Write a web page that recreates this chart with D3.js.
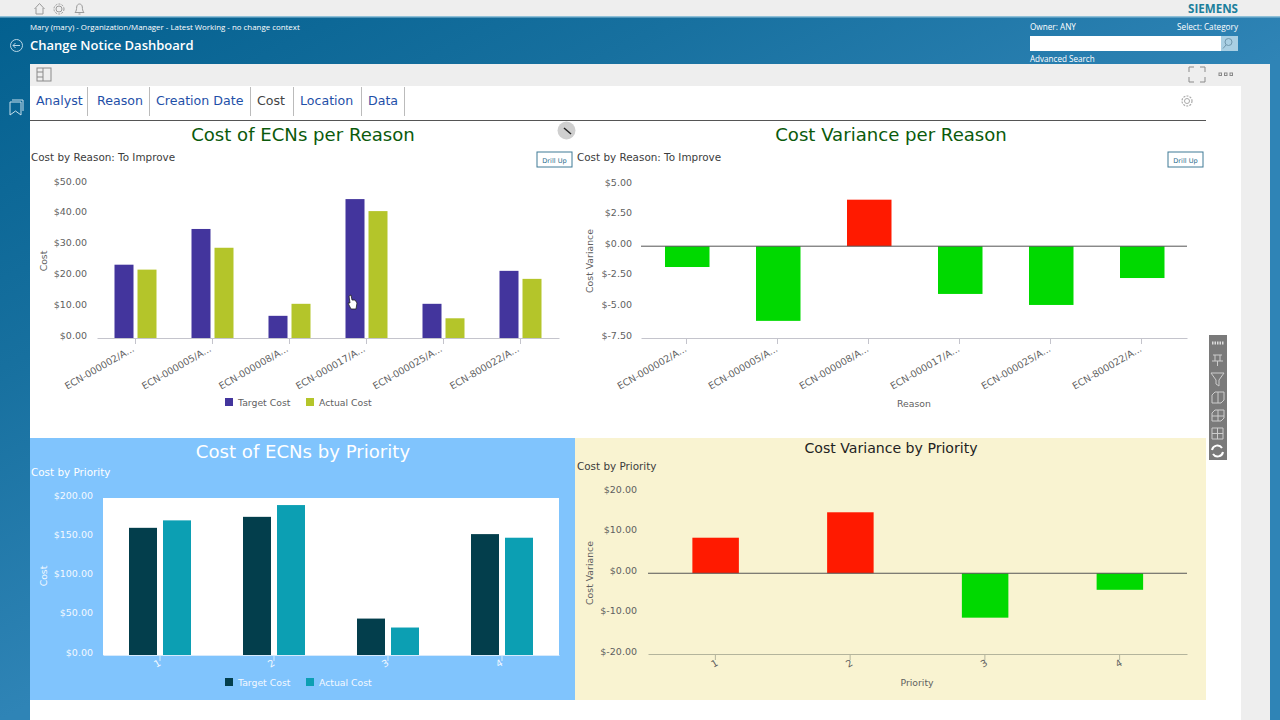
<!DOCTYPE html>
<html>
<head>
<meta charset="utf-8">
<script src="https://cdn.jsdelivr.net/npm/d3@7/dist/d3.min.js"></script>
<style>
  html, body { margin: 0; padding: 0; background: #fff; overflow: hidden; }
  svg { display: block; }
  text { font-family: "DejaVu Sans", sans-serif; }
  .ui text, text.ui { font-family: "Open Sans", sans-serif; }
</style>
</head>
<body>
<div id="page"></div>
<script>
// Chart values
const reasonLabels = ['ECN-000002/A...', 'ECN-000005/A...', 'ECN-000008/A...', 'ECN-000017/A...', 'ECN-000025/A...', 'ECN-800022/A...'];
const reasonTarget = [23.8, 35.4, 7.2, 45.1, 11.1, 21.8];
const reasonActual = [22.2, 29.3, 11.1, 41.2, 6.4, 19.2];
const reasonVariance = [-1.7, -6.1, 3.8, -3.9, -4.8, -2.6];
const reasonCostTicks = [0, 10, 20, 30, 40, 50];
const reasonVarianceTicks = [-7.5, -5, -2.5, 0, 2.5, 5];

const priorityLabels = ['1', '2', '3', '4'];
const priorityTarget = [162, 176, 46.4, 154];
const priorityActual = [171.5, 191, 35, 149.4];
const priorityVariance = [8.8, 15.1, -11, -4.1];
const priorityCostTicks = [0, 50, 100, 150, 200];
const priorityVarianceTicks = [-20, -10, 0, 10, 20];

const tabs = [
  { name: 'Analyst', x: 36, sep: 87 },
  { name: 'Reason', x: 97, sep: 149 },
  { name: 'Creation Date', x: 156, sep: 250 },
  { name: 'Cost', x: 257, sep: 293, active: true },
  { name: 'Location', x: 300, sep: 361 },
  { name: 'Data', x: 368, sep: 404 }
];

const RED = '#ff1a00', GREEN = '#00d900';
const money = d => '$' + d.toFixed(2);

const svg = d3.select('#page').append('svg')
  .attr('width', 1280)
  .attr('height', 720)
  .attr('viewBox', '0 0 1280 720');

// Page background
const defs = svg.append('defs');
const grad = defs.append('linearGradient').attr('id', 'bg')
  .attr('gradientUnits', 'userSpaceOnUse')
  .attr('x1', 0).attr('y1', 17).attr('x2', 287).attr('y2', 572);
grad.append('stop').attr('offset', '0').attr('stop-color', '#03608f');
grad.append('stop').attr('offset', '0.5').attr('stop-color', '#17709f');
grad.append('stop').attr('offset', '1').attr('stop-color', '#2f84b6');

const rect = (x, y, w, h, fill) => svg.append('rect')
  .attr('x', x).attr('y', y).attr('width', w).attr('height', h).attr('fill', fill);

function label(x, y, str, opts = {}) {
  return svg.append('text')
    .attr('x', x).attr('y', y)
    .attr('font-size', opts.size || 11)
    .attr('fill', opts.fill || '#333')
    .attr('text-anchor', opts.anchor || 'start')
    .attr('font-weight', opts.weight || 'normal')
    .attr('class', opts.cls || null)
    .text(str);
}

rect(0, 0, 1280, 720, 'url(#bg)');
rect(0, 0, 1280, 16, '#eeeeee');
rect(0, 16, 1280, 1.5, '#8fc0d8');
rect(30, 64, 1240, 656, '#eeeeee');
rect(30, 86, 1211, 634, '#ffffff');

// Header texts
label(30, 30, 'Mary (mary) - Organization/Manager - Latest Working - no change context', { size: 7.9, fill: '#fff', cls: 'ui' });
label(30, 50, 'Change Notice Dashboard', { size: 13, fill: '#fff', weight: 600, cls: 'ui' });
label(1188, 12.5, 'SIEMENS', { size: 11.6, fill: '#1b7f9c', weight: 700, cls: 'ui' });
label(1030, 30, 'Owner: ANY', { size: 8.2, fill: '#fff', cls: 'ui' });
label(1238, 30, 'Select: Category', { size: 8.2, fill: '#fff', anchor: 'end', cls: 'ui' });
label(1030, 62, 'Advanced Search', { size: 8.1, fill: '#fff', cls: 'ui' });
rect(1030, 36, 191, 15, '#ffffff');
rect(1221, 36, 17, 15, '#a9cfe3');

// Small line icons
function stroke(sel, color, w) {
  return sel.attr('fill', 'none').attr('stroke', color).attr('stroke-width', w || 1);
}
const ico = svg.append('g');
stroke(ico.append('path').attr('d', 'M34.5 9 L39.5 3.5 L44.5 9 M36 8 V14 H43 V8'), '#9a9a9a');
stroke(ico.append('circle').attr('cx', 59).attr('cy', 9).attr('r', 3), '#9a9a9a');
stroke(ico.append('circle').attr('cx', 59).attr('cy', 9).attr('r', 5).attr('stroke-dasharray', '2 1.2'), '#9a9a9a');
stroke(ico.append('path').attr('d', 'M75 12.5 H84 C82.5 11 82.5 9 82.3 7 C82 3 77 3 76.7 7 C76.5 9 76.5 11 75 12.5 M78.5 14 H80.5'), '#9a9a9a');
stroke(ico.append('circle').attr('cx', 16.5).attr('cy', 45.5).attr('r', 6), '#b8d6e6');
stroke(ico.append('path').attr('d', 'M20 45.5 H13 M15.5 43 L13 45.5 L15.5 48'), '#b8d6e6');
stroke(ico.append('circle').attr('cx', 1228.5).attr('cy', 42).attr('r', 3.5), '#6f97ad');
stroke(ico.append('path').attr('d', 'M1226 45 L1223 48.5'), '#6f97ad');
stroke(ico.append('path').attr('d', 'M10 102 H21 V115 L15.5 111 L10 115 Z M12 100 H23 V111'), '#c7e0ec');
stroke(ico.append('rect').attr('x', 37).attr('y', 68).attr('width', 14).attr('height', 13), '#8a8a8a');
stroke(ico.append('path').attr('d', 'M37 72 H43 M37 77 H43 M43 68 V81'), '#8a8a8a');
stroke(ico.append('path').attr('d', 'M1189 72 V67 H1194 M1200 67 H1205 V72 M1189 77 V82 H1194 M1200 82 H1205 V77'), '#8a8a8a');
[1219, 1224.5, 1230].forEach(x => stroke(ico.append('rect').attr('x', x).attr('y', 73).attr('width', 2.5).attr('height', 2.5), '#888'));
stroke(ico.append('circle').attr('cx', 1187).attr('cy', 101).attr('r', 2.5), '#aaa');
stroke(ico.append('circle').attr('cx', 1187).attr('cy', 101).attr('r', 5).attr('stroke-dasharray', '2 1.2'), '#aaa', 1.2);

// Tabs
tabs.forEach(t => {
  label(t.x, 105, t.name, { size: 12.6, fill: t.active ? '#444' : '#1f50a8' });
  rect(t.sep, 87, 1, 29, '#bbbbbb');
});
rect(30, 120, 1176, 1, '#555555');

// Wrench button between the top charts
svg.append('circle').attr('cx', 566.5).attr('cy', 130.5).attr('r', 9).attr('fill', '#cfcfcf');
stroke(svg.append('path').attr('d', 'M564 128 L571 134'), '#222', 1.5);

// Toolbar on the right
rect(1209, 335, 18, 125, '#7a7a7a');
stroke(svg.append('path').attr('d', 'M1212 343 H1224').attr('stroke-dasharray', '1.5 1'), '#ddd', 3);
stroke(svg.append('path').attr('d', 'M1213 355 H1222 M1215 355 V361 M1220 355 V361 M1212 361 H1223 M1217.5 361 V366'), '#ccc');
stroke(svg.append('path').attr('d', 'M1211 373 H1224 L1219 380 V386 L1216 384 V380 Z'), '#ccc');
stroke(svg.append('path').attr('d', 'M1212 395 L1215 392 H1224 V400 L1221 403 H1212 Z M1218 392 V403'), '#ccc');
stroke(svg.append('path').attr('d', 'M1212 413 L1215 410 H1224 V418 L1221 421 H1212 Z M1218 410 V421 M1212 416 H1224'), '#ccc');
stroke(svg.append('path').attr('d', 'M1212 428 H1223 V439 H1212 Z M1217.5 428 V439 M1212 433.5 H1223'), '#ccc');
stroke(svg.append('path').attr('d', 'M1212 450 A5.5 5.5 0 0 1 1222 448 M1223 452 A5.5 5.5 0 0 1 1213 454'), '#fff', 2);

// Panels behind the bottom charts
rect(30, 438, 545, 262, '#80c4fd');
rect(575, 438, 631, 262, '#f9f3d1');

// One chart: axes, bars and titles come from its own scales
function drawChart(c) {
  const x = d3.scaleBand().domain(c.categories).range([c.left, c.right]);
  const y = d3.scaleLinear().domain(c.domain).range([c.bottom, c.top]);
  const g = svg.append('g');

  if (c.plotFill) {
    g.append('rect')
      .attr('x', c.left).attr('y', c.top)
      .attr('width', c.right - c.left).attr('height', c.bottom - c.top)
      .attr('fill', c.plotFill);
  }

  // Value axis
  const yAxis = g.append('g')
    .attr('transform', `translate(${c.left},0)`)
    .call(d3.axisLeft(y).tickValues(c.yTicks).tickFormat(money).tickSize(0).tickPadding(c.yPad));
  yAxis.select('.domain').remove();
  yAxis.selectAll('text')
    .attr('dy', '0')
    .attr('font-size', 9.5)
    .attr('font-family', '"DejaVu Sans", sans-serif')
    .attr('fill', c.tickColor);

  // Bars
  const seriesList = c.series;
  const barGroups = g.append('g');
  seriesList.forEach((s, si) => {
    barGroups.selectAll(null)
      .data(s.values)
      .join('rect')
      .attr('x', (d, i) => x(c.categories[i]) + x.bandwidth() / 2 + c.barOffset(si))
      .attr('y', d => y(Math.max(d, 0)))
      .attr('width', c.barWidth)
      .attr('height', d => Math.abs(y(d) - y(0)))
      .attr('fill', d => s.color || (d > 0 ? RED : GREEN));
  });

  // Category axis
  const xAxis = g.append('g')
    .attr('transform', `translate(0,${c.bottom})`)
    .call(d3.axisBottom(x).tickSize(6).tickSizeOuter(0).tickPadding(4));
  xAxis.select('.domain').attr('stroke', c.axisColor);
  xAxis.selectAll('.tick line').attr('stroke', c.axisColor);
  xAxis.selectAll('text')
    .attr('font-size', c.xSize)
    .attr('font-family', '"DejaVu Sans", sans-serif')
    .attr('fill', c.tickColor)
    .attr('text-anchor', 'end')
    .attr('dy', '0.5em')
    .attr('transform', `translate(${c.xShift},${c.yShift}) rotate(-30)`);

  // Zero line on the variance charts
  if (c.zeroLine) {
    g.append('line')
      .attr('x1', c.left).attr('x2', c.right)
      .attr('y1', y(0)).attr('y2', y(0))
      .attr('stroke', '#555');
  }

  // Titles
  label(c.titleX, c.titleY, c.title, { size: c.titleSize, fill: c.titleColor, anchor: 'middle' });
  label(c.subX, c.subY, c.subtitle, { size: 10.4, fill: c.subColor });
  svg.append('text')
    .attr('transform', `translate(${c.yTitleX},${(c.yTitleMid)}) rotate(-90)`)
    .attr('text-anchor', 'middle')
    .attr('font-size', 9.3)
    .attr('fill', c.tickColor)
    .text(c.yTitle);
  if (c.xTitle) label(c.xTitleX, c.xTitleY, c.xTitle, { size: 9.3, fill: c.tickColor, anchor: 'middle' });

  // Legend
  if (c.legendX) {
    seriesList.forEach((s, si) => {
      const lx = c.legendX[si];
      rect(lx, c.legendY - 8, 8, 8, s.color);
      label(lx + 13, c.legendY, s.name, { size: 9.3, fill: c.tickColor });
    });
  }
}

function drillUp(x, y) {
  svg.append('rect')
    .attr('x', x).attr('y', y).attr('width', 35).attr('height', 15)
    .attr('fill', '#fff').attr('stroke', '#3f7a96');
  label(x + 17.5, y + 10.5, 'Drill Up', { size: 6.6, fill: '#2b6e8c', anchor: 'middle' });
}

drawChart({
  categories: reasonLabels, domain: [0, 50], yTicks: reasonCostTicks,
  left: 97, right: 559, top: 184, bottom: 338, yPad: 10,
  barWidth: 19, barOffset: i => (i === 0 ? -21 : 2), xSize: 9.5,
  xShift: -8, yShift: 0,
  series: [
    { name: 'Target Cost', values: reasonTarget, color: '#43359d' },
    { name: 'Actual Cost', values: reasonActual, color: '#b4c52a' }
  ],
  tickColor: '#5f5f5f', axisColor: '#c4c4cc',
  title: 'Cost of ECNs per Reason', titleX: 303, titleY: 141, titleSize: 18.1, titleColor: '#0b5a0b',
  subtitle: 'Cost by Reason: To Improve', subX: 31, subY: 161, subColor: '#3c3c3c',
  yTitle: 'Cost', yTitleX: 47, yTitleMid: 261,
  legendX: [225, 306], legendY: 406
});
drillUp(537, 152);

drawChart({
  categories: reasonLabels, domain: [-7.5, 5], yTicks: reasonVarianceTicks,
  left: 641, right: 1187, top: 185, bottom: 338, yPad: 9,
  barWidth: 44.5, barOffset: () => -21.5, xSize: 9.5,
  xShift: -6.5, yShift: 0,
  series: [{ values: reasonVariance }],
  tickColor: '#5f5f5f', axisColor: '#c4c4cc', zeroLine: true,
  title: 'Cost Variance per Reason', titleX: 891, titleY: 141, titleSize: 18.1, titleColor: '#0b5a0b',
  subtitle: 'Cost by Reason: To Improve', subX: 577, subY: 161, subColor: '#3c3c3c',
  yTitle: 'Cost Variance', yTitleX: 593, yTitleMid: 261,
  xTitle: 'Reason', xTitleX: 914, xTitleY: 407
});
drillUp(1168, 152);

drawChart({
  categories: priorityLabels, domain: [0, 200], yTicks: priorityCostTicks,
  left: 103, right: 559, top: 498, bottom: 655, yPad: 10,
  barWidth: 28, barOffset: i => (i === 0 ? -31 : 3), xSize: 9.5, plotFill: '#ffffff',
  xShift: -6, yShift: -3,
  series: [
    { name: 'Target Cost', values: priorityTarget, color: '#033e4c' },
    { name: 'Actual Cost', values: priorityActual, color: '#0c9fb3' }
  ],
  tickColor: '#f4f9ff', axisColor: '#d6eafc',
  title: 'Cost of ECNs by Priority', titleX: 303, titleY: 458, titleSize: 18.1, titleColor: '#ffffff',
  subtitle: 'Cost by Priority', subX: 31, subY: 476, subColor: '#ffffff',
  yTitle: 'Cost', yTitleX: 47, yTitleMid: 576,
  legendX: [225, 306], legendY: 686
});

drawChart({
  categories: priorityLabels, domain: [-20, 20], yTicks: priorityVarianceTicks,
  left: 648, right: 1187, top: 492.5, bottom: 654, yPad: 11,
  barWidth: 46.5, barOffset: () => -23, xSize: 9.5,
  xShift: -4, yShift: -2,
  series: [{ values: priorityVariance }],
  tickColor: '#5f5f5f', axisColor: '#b4b49c', zeroLine: true,
  title: 'Cost Variance by Priority', titleX: 891, titleY: 453, titleSize: 14.1, titleColor: '#222',
  subtitle: 'Cost by Priority', subX: 577, subY: 470, subColor: '#3c3c3c',
  yTitle: 'Cost Variance', yTitleX: 593, yTitleMid: 573,
  xTitle: 'Priority', xTitleX: 917, xTitleY: 686
});

// Mouse pointer left in the screenshot
svg.append('path')
  .attr('d', 'M349 296 L351 295 L352 300 L355 300 L357 303 L356 309 L351 309 L348 303 L350 303 Z')
  .attr('fill', '#fff').attr('stroke', '#222').attr('stroke-width', 0.8);
</script>
</body>
</html>
